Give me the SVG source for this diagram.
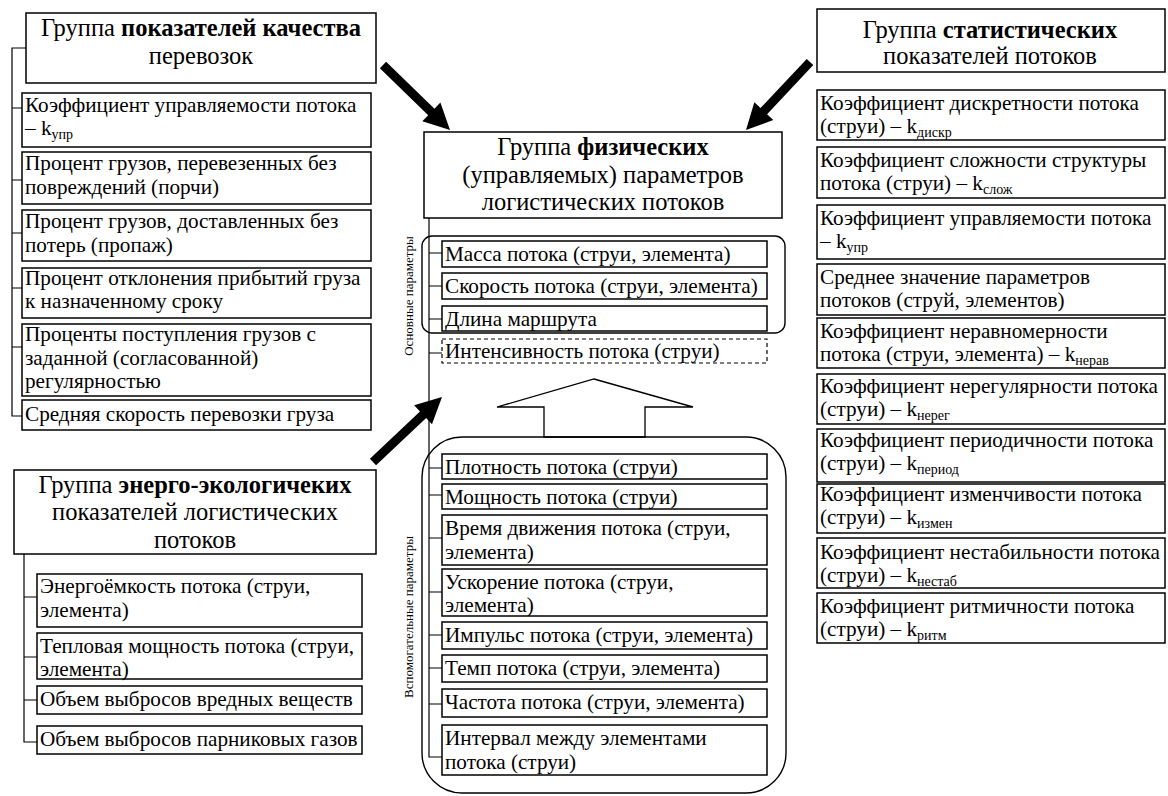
<svg xmlns="http://www.w3.org/2000/svg" width="1168" height="796" viewBox="0 0 1168 796">
<style>
text{font-family:"Liberation Serif","Times New Roman",serif;font-size:21.2px;fill:#000}
.h{text-anchor:middle;font-size:24.5px}
.b{font-weight:bold}
.box{fill:#fff;stroke:#000;stroke-width:1.5}
.dash{fill:#fff;stroke:#000;stroke-width:1.2;stroke-dasharray:4 3}
.grp{fill:none;stroke:#000;stroke-width:1.4}
.ln{fill:none;stroke:#000;stroke-width:1.2}
.rot{font-size:13px;text-anchor:middle}
.sub{font-size:14px}
.arr{fill:#000;stroke:none}
.big{fill:#fff;stroke:#000;stroke-width:1.3}
</style>
<rect width="1168" height="796" fill="#fff"/>

<g id="connectors">
  <path class="ln" d="M26,48 H12 V416 H22 M12,108 H22 M12,180 H22 M12,233 H22 M12,288 H22 M12,347 H22"/>
  <path class="ln" d="M24,554 V742 H37 M24,597 H37 M24,657 H37 M24,700 H37"/>
  <path class="ln" d="M429,218 V757 H442 M429,253 H442 M429,286 H442 M429,319 H442 M429,353 H442 M429,468 H442 M429,495 H442 M429,538 H442 M429,592 H442 M429,635 H442 M429,668 H442 M429,704 H442"/>
  <polygon class="arr" points="379.87,68.23 428.21,115.13 422.29,121.23 450,130 440.39,102.57 434.47,108.67 386.13,61.77"/>
  <polygon class="arr" points="806.72,58.92 760.54,107.99 754.35,102.16 746,130 773.29,119.98 767.10,114.15 813.28,65.08"/>
  <polygon class="arr" points="376.09,465.28 426.16,418.11 431.98,424.29 442,397 414.16,405.37 419.98,411.55 369.91,458.72"/>
  <polygon class="big" points="594,379 693,407 645,407 645,437 544,437 544,407 497,407"/>
</g>

<g id="quality">
  <rect class="box" x="26" y="13" width="350" height="70"/>
  <text class="h" x="201" y="36">Группа <tspan class="b">показателей качества</tspan></text>
  <text class="h" x="201" y="64">перевозок</text>
</g>
<g id="q1"><rect class="box" x="22" y="93" width="349" height="54"/>
  <text x="25" y="112">Коэффициент управляемости потока</text>
  <text x="25" y="135">– k<tspan class="sub" dy="4">упр</tspan></text></g>
<g id="q2"><rect class="box" x="22" y="152" width="349" height="52"/>
  <text x="25" y="170">Процент грузов, перевезенных без</text>
  <text x="25" y="194">повреждений (порчи)</text></g>
<g id="q3"><rect class="box" x="22" y="210" width="349" height="51"/>
  <text x="25" y="228">Процент грузов, доставленных без</text>
  <text x="25" y="252">потерь (пропаж)</text></g>
<g id="q4"><rect class="box" x="22" y="268" width="349" height="50"/>
  <text x="25" y="285">Процент отклонения прибытий груза</text>
  <text x="25" y="308">к назначенному сроку</text></g>
<g id="q5"><rect class="box" x="22" y="324" width="349" height="72"/>
  <text x="25" y="341">Проценты поступления грузов с</text>
  <text x="25" y="365">заданной (согласованной)</text>
  <text x="25" y="388">регулярностью</text></g>
<g id="q6"><rect class="box" x="22" y="400" width="349" height="30"/>
  <text x="25" y="421">Средняя скорость перевозки груза</text></g>

<g id="energy">
  <rect class="box" x="14" y="470" width="362" height="84"/>
  <text class="h" x="195" y="493">Группа <tspan class="b">энерго-экологичеких</tspan></text>
  <text class="h" x="195" y="520">показателей логистических</text>
  <text class="h" x="195" y="548">потоков</text>
</g>
<g id="e1"><rect class="box" x="37" y="574" width="325" height="53"/>
  <text x="40" y="593">Энергоёмкость потока (струи,</text>
  <text x="40" y="617">элемента)</text></g>
<g id="e2"><rect class="box" x="37" y="633" width="325" height="46"/>
  <text x="40" y="653">Тепловая мощность потока (струи,</text>
  <text x="40" y="676">элемента)</text></g>
<g id="e3"><rect class="box" x="37" y="686" width="325" height="28"/>
  <text x="40" y="706">Объем выбросов вредных веществ</text></g>
<g id="e4"><rect class="box" x="37" y="726" width="325" height="28"/>
  <text x="40" y="746">Объем выбросов парниковых газов</text></g>

<g id="physical">
  <rect class="box" x="424" y="132" width="358" height="86"/>
  <text class="h" x="603" y="155">Группа <tspan class="b">физических</tspan></text>
  <text class="h" x="603" y="183">(управляемых) параметров</text>
  <text class="h" x="603" y="210">логистических потоков</text>
</g>
<g id="main-params">
  <rect class="grp" x="422" y="236" width="363" height="97" rx="10"/>
  <text class="rot" transform="translate(413,296) rotate(-90)">Основные параметры</text>
</g>
<g id="p1"><rect class="box" x="442" y="241" width="325" height="26"/><text x="445" y="261">Масса потока (струи, элемента)</text></g>
<g id="p2"><rect class="box" x="442" y="273" width="325" height="26"/><text x="445" y="293">Скорость потока (струи, элемента)</text></g>
<g id="p3"><rect class="box" x="442" y="306" width="325" height="25"/><text x="445" y="326">Длина маршрута</text></g>
<g id="p4"><rect class="dash" x="442" y="339" width="325" height="24"/><text x="445" y="358">Интенсивность потока (струи)</text></g>

<g id="aux-params">
  <rect class="grp" x="422" y="437" width="364" height="356" rx="40"/>
  <text class="rot" transform="translate(413,617) rotate(-90)">Вспомогательные параметры</text>
</g>
<g id="a1"><rect class="box" x="442" y="454" width="325" height="25"/><text x="445" y="474">Плотность потока (струи)</text></g>
<g id="a2"><rect class="box" x="442" y="484" width="325" height="25"/><text x="445" y="504">Мощность потока (струи)</text></g>
<g id="a3"><rect class="box" x="442" y="515" width="325" height="50"/><text x="445" y="535">Время движения потока (струи,</text><text x="445" y="559">элемента)</text></g>
<g id="a4"><rect class="box" x="442" y="569" width="325" height="47"/><text x="445" y="589">Ускорение потока (струи,</text><text x="445" y="612">элемента)</text></g>
<g id="a5"><rect class="box" x="442" y="622" width="325" height="27"/><text x="445" y="642">Импульс потока (струи, элемента)</text></g>
<g id="a6"><rect class="box" x="442" y="655" width="325" height="27"/><text x="445" y="675">Темп потока (струи, элемента)</text></g>
<g id="a7"><rect class="box" x="442" y="689" width="325" height="28"/><text x="445" y="709">Частота потока (струи, элемента)</text></g>
<g id="a8"><rect class="box" x="442" y="725" width="325" height="50"/><text x="445" y="745">Интервал между элементами</text><text x="445" y="769">потока (струи)</text></g>

<g id="statistical">
  <rect class="box" x="817" y="9" width="348" height="63"/>
  <text class="h" x="990" y="38">Группа <tspan class="b">статистических</tspan></text>
  <text class="h" x="990" y="64">показателей потоков</text>
</g>
<g id="s1"><rect class="box" x="817" y="90" width="348" height="50"/><text x="820" y="110">Коэффициент дискретности потока</text><text x="820" y="133">(струи) – k<tspan class="sub" dy="4">дискр</tspan></text></g>
<g id="s2"><rect class="box" x="817" y="147" width="348" height="51"/><text x="820" y="167">Коэффициент сложности структуры</text><text x="820" y="190">потока (струи) – k<tspan class="sub" dy="4">слож</tspan></text></g>
<g id="s3"><rect class="box" x="817" y="205" width="348" height="54"/><text x="820" y="225">Коэффициент управляемости потока</text><text x="820" y="248">– k<tspan class="sub" dy="4">упр</tspan></text></g>
<g id="s4"><rect class="box" x="817" y="264" width="348" height="51"/><text x="820" y="284">Среднее значение параметров</text><text x="820" y="307">потоков (струй, элементов)</text></g>
<g id="s5"><rect class="box" x="817" y="318" width="348" height="50"/><text x="820" y="338">Коэффициент неравномерности</text><text x="820" y="361">потока (струи, элемента) – k<tspan class="sub" dy="4">нерав</tspan></text></g>
<g id="s6"><rect class="box" x="817" y="374" width="348" height="50"/><text x="820" y="393">Коэффициент нерегулярности потока</text><text x="820" y="416">(струи) – k<tspan class="sub" dy="4">нерег</tspan></text></g>
<g id="s7"><rect class="box" x="817" y="429" width="348" height="53"/><text x="820" y="447">Коэффициент периодичности потока</text><text x="820" y="470">(струи) – k<tspan class="sub" dy="4">период</tspan></text></g>
<g id="s8"><rect class="box" x="817" y="484" width="348" height="49"/><text x="820" y="501">Коэффициент изменчивости потока</text><text x="820" y="524">(струи) – k<tspan class="sub" dy="4">измен</tspan></text></g>
<g id="s9"><rect class="box" x="817" y="538" width="348" height="50"/><text x="820" y="559">Коэффициент нестабильности потока</text><text x="820" y="582">(струи) – k<tspan class="sub" dy="4">нестаб</tspan></text></g>
<g id="s10"><rect class="box" x="817" y="593" width="348" height="50"/><text x="820" y="613">Коэффициент ритмичности потока</text><text x="820" y="636">(струи) – k<tspan class="sub" dy="4">ритм</tspan></text></g>
</svg>
